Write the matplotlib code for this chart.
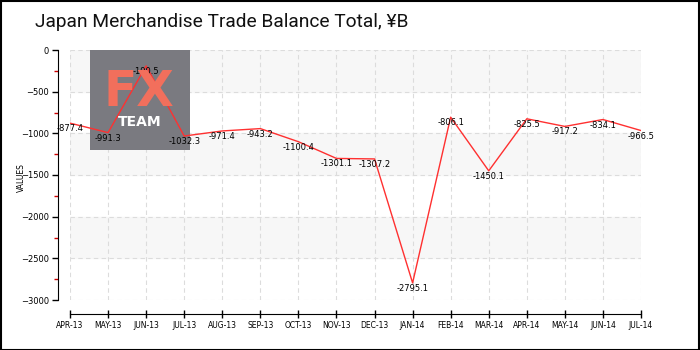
import numpy as np
import matplotlib
matplotlib.use("Agg")
import matplotlib.pyplot as plt
from matplotlib.patches import Rectangle
from matplotlib.ticker import MultipleLocator

# ── Data ──────────────────────────────────────────────────────────────
months = ["APR-13", "MAY-13", "JUN-13", "JUL-13", "AUG-13", "SEP-13",
          "OCT-13", "NOV-13", "DEC-13", "JAN-14", "FEB-14", "MAR-14",
          "APR-14", "MAY-14", "JUN-14", "JUL-14"]
values = [-877.4, -991.3, -190.5, -1032.3, -971.4, -943.2,
          -1100.4, -1301.1, -1307.2, -2795.1, -806.1, -1450.1,
          -825.5, -917.2, -834.1, -966.5]
title = "Japan Merchandise Trade Balance Total, ¥B"

W, H = 700, 350
fig = plt.figure(figsize=(7, 3.5), dpi=100)
ax = fig.add_axes([70 / W, 1 - 300 / H, (641 - 70) / W, 250 / H])

x = np.arange(len(months))

# alternating light bands between the major gridlines
for lo in (-500, -1500, -2500):
    ax.axhspan(lo, lo + 500, color="#f7f7f7", zorder=0)

ax.plot(x, values, color="#ff3030", linewidth=1.0, zorder=3)
for xi, v in zip(x, values):
    ax.annotate(f"{v:.1f}", (xi, v), xytext=(0, -4), textcoords="offset points",
                ha="center", va="center", fontsize=6, color="black", zorder=4)

ax.set_xlim(0, len(months) - 1)
ax.set_ylim(-3000, 0)
ax.set_xticks(x)
ax.set_xticklabels(months)
ax.yaxis.set_major_locator(MultipleLocator(500))
ax.yaxis.set_minor_locator(MultipleLocator(250))
ax.tick_params(axis="y", which="major", direction="out", length=4, width=1,
               labelsize=6, pad=2)
ax.tick_params(axis="y", which="minor", direction="out", length=3, width=1,
               color="#cc0000")
ax.tick_params(axis="x", which="major", direction="inout", length=6, width=1,
               labelsize=5.5, pad=2)
ax.grid(True, color="#dcdcdc", linestyle=(0, (4, 3)), linewidth=0.8)
ax.set_axisbelow(True)

for s in ("top", "right"):
    ax.spines[s].set_visible(False)
ax.spines["left"].set_position(("outward", 9))
ax.spines["bottom"].set_position(("outward", 10))

ax.set_ylabel("VALUES", fontsize=5.5)
ax.yaxis.set_label_coords((26 - 70) / (641 - 70), 0.49)

# title
fig.text(35 / W, 1 - 22 / H, title, ha="left", va="center", fontsize=13.8,
         family=["Roboto", "DejaVu Sans"], color="#111111")

# logo
ax.add_patch(Rectangle((90 / W, 1 - 150 / H), 100 / W, 100 / H,
                       transform=fig.transFigure, facecolor="#7a7a80",
                       edgecolor="none", zorder=1.5, clip_on=False))
fig.text(139 / W, 1 - 92 / H, "FX", ha="center", va="center", fontsize=35,
         fontweight="bold", color="#f26f5c", zorder=2)
fig.text(140 / W, 1 - 122 / H, "TEAM", ha="center", va="center", fontsize=10,
         fontweight="bold", color="white", zorder=2)

# border
fig.add_artist(Rectangle((0.5 / W, 0.5 / H), 1 - 1.5 / W, 1 - 1.5 / H,
                         transform=fig.transFigure, fill=False,
                         edgecolor="black", linewidth=1.5))

fig.savefig("out.png", dpi=100)
